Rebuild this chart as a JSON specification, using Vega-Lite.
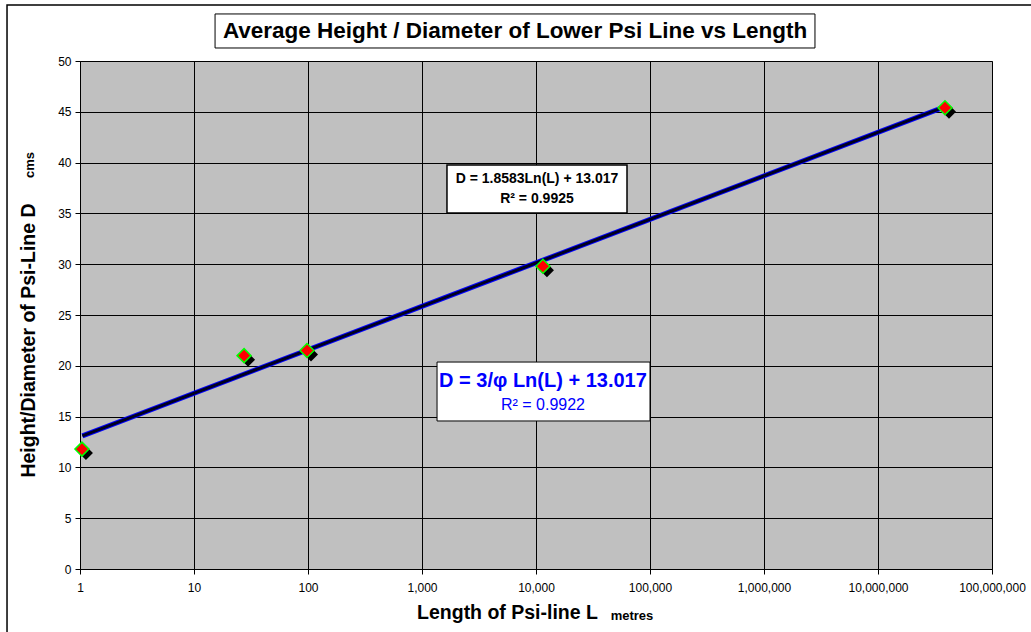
{
  "$schema": "https://vega.github.io/schema/vega-lite/v6.json",
  "width": 912,
  "height": 508,
  "autosize": "none",
  "padding": {"left": 80, "top": 61, "right": 39, "bottom": 63},
  "background": "white",
  "config": {
    "font": "Liberation Sans",
    "view": {"fill": "#C0C0C0", "stroke": "#808080", "strokeWidth": 1}
  },
  "datasets": {
    "points": [
      {"L": 1.04, "D": 11.8},
      {"L": 27.5, "D": 21.0},
      {"L": 98, "D": 21.5},
      {"L": 11500, "D": 29.8},
      {"L": 38700000, "D": 45.4}
    ],
    "trend": [
      {"L": 1.05, "D": 13.1},
      {"L": 41000000, "D": 45.6}
    ],
    "frame": [
      {"L": 0.229, "L2": 264000000, "D": 55.51, "D2": -6.99}
    ],
    "titlebox": [
      {"L": 15.3, "L2": 2800000, "D": 54.63, "D2": 51.28}
    ],
    "box1": [
      {"L": 1656, "L2": 62850, "D": 39.76, "D2": 35.04}
    ],
    "box2": [
      {"L": 1355, "L2": 100000, "D": 20.37, "D2": 14.57}
    ],
    "title": [
      {"L": 6546, "D": 52.95, "t": "Average Height / Diameter of Lower Psi Line vs Length"}
    ],
    "eq1": [
      {"L": 10200, "D": 38.39, "t": "D = 1.8583Ln(L) + 13.017"},
      {"L": 10200, "D": 36.42, "t": "R² = 0.9925"}
    ],
    "eq2a": [
      {"L": 11510, "D": 18.5, "t": "D = 3/φ Ln(L) + 13.017"}
    ],
    "eq2b": [
      {"L": 11510, "D": 16.14, "t": "R² = 0.9922"}
    ],
    "metres": [
      {"L": 69500, "D": -4.63, "t": "metres"}
    ],
    "cms": [
      {"L": 0.364, "D": 39.76, "t": "cms"}
    ]
  },
  "encoding": {
    "x": {
      "field": "L", "type": "quantitative",
      "scale": {"type": "log", "domain": [1, 100000000], "nice": false},
      "axis": {
        "title": "Length of Psi-line L",
        "titleFontSize": 19.5, "titleFontWeight": "bold", "titleColor": "#000",
        "titleX": 427, "titleY": 43, "titleBaseline": "middle",
        "values": [1, 10, 100, 1000, 10000, 100000, 1000000, 10000000, 100000000],
        "format": ",d",
        "labelFontSize": 12, "labelColor": "#000", "labelPadding": 8,
        "tickSize": 5, "tickColor": "#000", "domainColor": "#000",
        "grid": true, "gridColor": "#000", "gridWidth": 1, "gridOpacity": 1,
        "labelOverlap": false, "labelFlush": false
      }
    },
    "y": {
      "field": "D", "type": "quantitative",
      "scale": {"domain": [0, 50], "nice": false, "zero": false},
      "axis": {
        "title": "Height/Diameter of Psi-Line  D",
        "titleFontSize": 19.5, "titleFontWeight": "bold", "titleColor": "#000",
        "titleX": -52, "titleY": 279, "titleBaseline": "middle", "titleAngle": 270,
        "values": [0, 5, 10, 15, 20, 25, 30, 35, 40, 45, 50],
        "labelFontSize": 12, "labelColor": "#000", "labelPadding": 4,
        "tickSize": 5, "tickColor": "#000", "domainColor": "#000",
        "grid": true, "gridColor": "#000", "gridWidth": 1, "gridOpacity": 1
      }
    }
  },
  "layer": [
    {
      "data": {"name": "points"},
      "mark": {"type": "point", "shape": "diamond", "filled": true, "size": 196, "color": "#000000", "xOffset": 4, "yOffset": 4, "opacity": 1}
    },
    {
      "data": {"name": "trend"},
      "mark": {"type": "line", "color": "#0000FF", "strokeWidth": 5}
    },
    {
      "data": {"name": "trend"},
      "mark": {"type": "line", "color": "#000020", "strokeWidth": 3}
    },
    {
      "data": {"name": "points"},
      "mark": {"type": "point", "shape": "diamond", "filled": true, "size": 196, "fill": "#FF0000", "stroke": "#00FF00", "strokeWidth": 1.5, "opacity": 1}
    },
    {
      "data": {"name": "frame"},
      "mark": {"type": "rect", "fill": null, "fillOpacity": 0, "stroke": "#000", "strokeWidth": 1.5},
      "encoding": {"x2": {"field": "L2"}, "y2": {"field": "D2"}}
    },
    {
      "data": {"name": "titlebox"},
      "mark": {"type": "rect", "fill": "#000", "xOffset": 4, "yOffset": 4},
      "encoding": {"x2": {"field": "L2"}, "y2": {"field": "D2"}}
    },
    {
      "data": {"name": "titlebox"},
      "mark": {"type": "rect", "fill": "#fff", "stroke": "#000", "strokeWidth": 1},
      "encoding": {"x2": {"field": "L2"}, "y2": {"field": "D2"}}
    },
    {
      "data": {"name": "box1"},
      "mark": {"type": "rect", "fill": "#fff", "stroke": "#000", "strokeWidth": 1.5},
      "encoding": {"x2": {"field": "L2"}, "y2": {"field": "D2"}}
    },
    {
      "data": {"name": "box2"},
      "mark": {"type": "rect", "fill": "#fff", "stroke": "#000", "strokeWidth": 1},
      "encoding": {"x2": {"field": "L2"}, "y2": {"field": "D2"}}
    },
    {
      "data": {"name": "title"},
      "mark": {"type": "text", "fontSize": 22.5, "fontWeight": "bold", "color": "#000", "align": "center", "baseline": "middle"},
      "encoding": {"text": {"field": "t"}}
    },
    {
      "data": {"name": "eq1"},
      "mark": {"type": "text", "fontSize": 14, "fontWeight": "bold", "color": "#000", "align": "center", "baseline": "middle"},
      "encoding": {"text": {"field": "t"}}
    },
    {
      "data": {"name": "eq2a"},
      "mark": {"type": "text", "fontSize": 20, "fontWeight": "bold", "color": "#0000FF", "align": "center", "baseline": "middle"},
      "encoding": {"text": {"field": "t"}}
    },
    {
      "data": {"name": "eq2b"},
      "mark": {"type": "text", "fontSize": 16, "color": "#0000FF", "align": "center", "baseline": "middle"},
      "encoding": {"text": {"field": "t"}}
    },
    {
      "data": {"name": "metres"},
      "mark": {"type": "text", "fontSize": 13, "fontWeight": "bold", "color": "#000", "align": "center", "baseline": "middle"},
      "encoding": {"text": {"field": "t"}}
    },
    {
      "data": {"name": "cms"},
      "mark": {"type": "text", "fontSize": 13, "fontWeight": "bold", "color": "#000", "align": "center", "baseline": "middle", "angle": 270},
      "encoding": {"text": {"field": "t"}}
    }
  ]
}
